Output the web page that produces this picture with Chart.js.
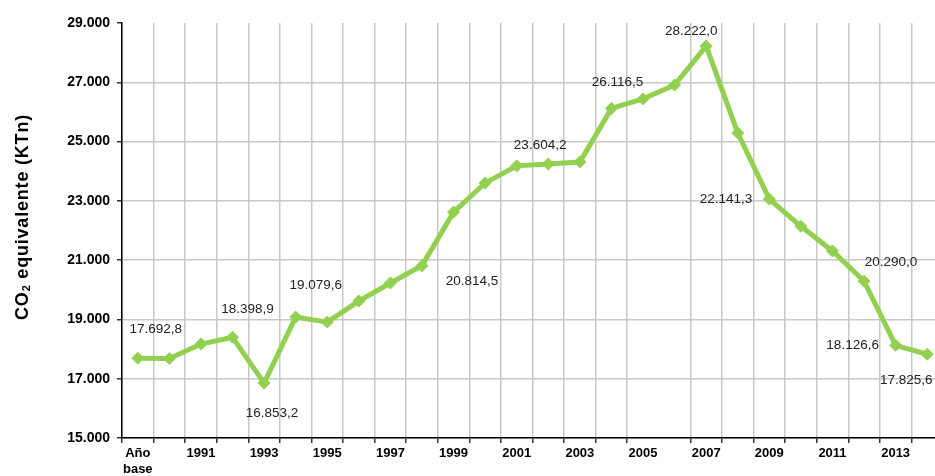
<!DOCTYPE html>
<html>
<head>
<meta charset="utf-8">
<script src="https://cdn.jsdelivr.net/npm/chart.js@4.4.1/dist/chart.umd.min.js"></script>
<style>
  html, body { margin: 0; padding: 0; background: #fff; overflow: hidden; }
  #wrap { width: 950px; height: 476px; }
</style>
</head>
<body>
<div id="wrap"><canvas id="co2Chart"></canvas></div>
<script>
// categories (x axis)
const years = [
  ["Año", "base"], "1990", "1991", "1992", "1993", "1994", "1995", "1996", "1997",
  "1998", "1999", "2000", "2001", "2002", "2003", "2004", "2005", "2006", "2007",
  "2008", "2009", "2010", "2011", "2012", "2013", "2014"
];

// CO2 equivalente (KTn)
const emissions = [
  17692.8, 17680, 18170, 18398.9, 16853.2, 19079.6, 18910, 19620, 20230,
  20814.5, 22620, 23604.2, 24180, 24240, 24310, 26116.5, 26440, 26910, 28222.0,
  25290, 23060, 22141.3, 21310, 20290.0, 18126.6, 17825.6
];

// y axis ticks
const yTicks = [15000, 17000, 19000, 21000, 23000, 25000, 27000, 29000];

// points that carry a value label
const labelledPoints = [0, 3, 4, 5, 9, 11, 15, 18, 21, 23, 24, 25];

// where each value label sits relative to its point (px)
const labelOffsets = {
  0: [18, -29], 3: [15, -28], 4: [8, 30], 5: [20, -32], 9: [50, 16],
  11: [55, -38], 15: [6, -26], 18: [-15, -15], 21: [-75, -27],
  23: [27, -19], 24: [-43, 0], 25: [-21, 26]
};

const green = "#92D050";
const font = "'Liberation Sans', Arial, sans-serif";

function esNumber(v, decimals) {
  const parts = v.toFixed(decimals).split(".");
  parts[0] = parts[0].replace(/\B(?=(\d{3})+(?!\d))/g, ".");
  return parts.join(",");
}

const valueLabels = {
  id: "valueLabels",
  afterDatasetsDraw(chart) {
    const ctx = chart.ctx;
    const meta = chart.getDatasetMeta(0);
    ctx.save();
    ctx.font = "13.5px " + font;
    ctx.fillStyle = "#222";
    ctx.textAlign = "center";
    ctx.textBaseline = "middle";
    labelledPoints.forEach((i) => {
      const pt = meta.data[i];
      const [dx, dy] = labelOffsets[i];
      ctx.fillText(esNumber(emissions[i], 1), pt.x + dx, pt.y + dy);
    });
    ctx.restore();
  }
};

// y axis title with a real subscript
const yTitle = {
  id: "yTitle",
  afterDraw(chart) {
    const ctx = chart.ctx;
    const parts = [
      { t: "CO", f: "bold 18px " + font, dy: 0 },
      { t: "2", f: "bold 11px " + font, dy: 4 },
      { t: " equivalente (KTn)", f: "bold 18px " + font, dy: 0 }
    ];
    ctx.save();
    ctx.translate(23, 217);
    ctx.rotate(-Math.PI / 2);
    ctx.fillStyle = "#000";
    ctx.textBaseline = "middle";
    ctx.textAlign = "left";
    if ("letterSpacing" in ctx) ctx.letterSpacing = "0.8px";
    let total = 0;
    parts.forEach((p) => { ctx.font = p.f; p.w = ctx.measureText(p.t).width; total += p.w; });
    let x = -total / 2;
    parts.forEach((p) => {
      ctx.font = p.f;
      ctx.fillText(p.t, x, p.dy);
      x += p.w;
    });
    ctx.restore();
  }
};

new Chart(document.getElementById("co2Chart"), {
  type: "line",
  data: {
    labels: years,
    datasets: [{
      data: emissions,
      borderColor: green,
      backgroundColor: green,
      borderWidth: 5,
      tension: 0,
      pointStyle: "rectRot",
      pointRadius: 6,
      pointBackgroundColor: green,
      pointBorderColor: green,
      pointBorderWidth: 1
    }]
  },
  options: {
    responsive: true,
    maintainAspectRatio: false,
    animation: false,
    layout: { padding: { left: 0, right: 6.4, top: 23, bottom: 0 } },
    plugins: { legend: { display: false }, tooltip: { enabled: false } },
    scales: {
      x: {
        type: "category",
        offset: true,
        afterFit: (s) => { s.height = 38; },
        grid: {
          offset: true,
          color: (c) => (c.index === 17 ? "rgba(0,0,0,0)" : "#c8c8c8"),
          tickColor: (c) => (c.index === 17 ? "rgba(0,0,0,0)" : "#333"),
          lineWidth: 1.5,
          tickLength: 5
        },
        border: { color: "#000", width: 1.5 },
        ticks: {
          autoSkip: false,
          maxRotation: 0,
          minRotation: 0,
          padding: 3,
          color: "#000",
          font: { family: font, size: 13, weight: "bold" },
          callback: function (val, idx) {
            return idx % 2 === 0 ? this.getLabelForValue(val) : "";
          }
        }
      },
      y: {
        min: 15000,
        max: 29000,
        afterFit: (s) => { s.width = 122; },
        afterBuildTicks: (s) => { s.ticks = yTicks.map((v) => ({ value: v })); },
        grid: {
          color: (c) => (c.tick && c.tick.value === 29000 ? "rgba(0,0,0,0)" : "#c8c8c8"),
          tickColor: "#333",
          lineWidth: 1.5,
          tickLength: 5
        },
        border: { color: "#000", width: 1.5 },
        ticks: {
          padding: 7,
          color: "#000",
          font: { family: font, size: 14, weight: "bold" },
          callback: (v) => esNumber(v, 0)
        }
      }
    }
  },
  plugins: [valueLabels, yTitle]
});
</script>
</body>
</html>
